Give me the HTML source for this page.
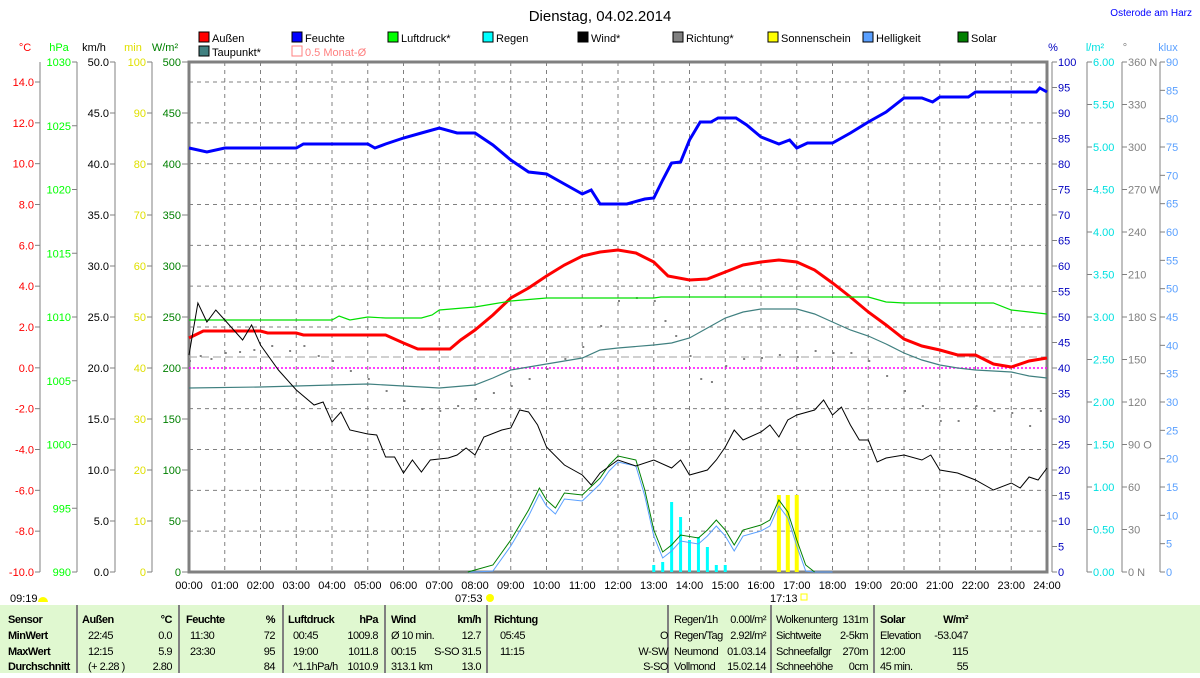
<!DOCTYPE html><html><head><meta charset="utf-8"><style>
body{margin:0;width:1200px;height:673px;background:#fff;overflow:hidden;font-family:"Liberation Sans",sans-serif;}
svg text{font-family:"Liberation Sans",sans-serif;font-size:11px}
svg text.t{font-size:11px;letter-spacing:-0.5px}
</style></head><body>
<svg id="s" width="1200" height="673" xmlns="http://www.w3.org/2000/svg"></svg>
<script>
const s=document.getElementById('s');let h='';
const X=t=>189+t*35.75;
const T=(x,y,t,c,a,extra)=>h+=`<text x="${x}" y="${y}" fill="${c||'#000'}" text-anchor="${a||'start'}" ${extra||''}>${t}</text>`;
const L=(x1,y1,x2,y2,c,w,d)=>h+=`<line x1="${x1}" y1="${y1}" x2="${x2}" y2="${y2}" stroke="${c}" stroke-width="${w||1}" ${d?`stroke-dasharray="${d}"`:''}/>`;
T(600,21,'Dienstag, 04.02.2014','#000','middle','style="font-size:15px"');
T(1192,16,'Osterode am Harz','#0000ff','end','style="font-size:10px"');
const lg=[['Außen','#f00',199,42],['Feuchte','#00f',292,42],['Luftdruck*','#0f0',388,42],['Regen','#0ff',483,42],['Wind*','#000',578,42],['Richtung*','#808080',673,42],['Sonnenschein','#ff0',768,42],['Helligkeit','#5aa0ff',863,42],['Solar','#008000',958,42],['Taupunkt*','#408080',199,56]];
lg.forEach(l=>{h+=`<rect x="${l[2]}" y="${l[3]-10}" width="10" height="10" fill="${l[1]}" stroke="#000"/>`;T(l[2]+13,l[3],l[0]);});
h+=`<rect x="292" y="46" width="10" height="10" fill="none" stroke="#ff8080"/>`;T(305,56,'0.5 Monat-Ø','#ff8080');
for(let i=1;i<24;i++)L(X(i),62,X(i),572,'#808080',1,'4,4');
for(let v=12;v>=-8;v-=2){let y=572-(v+10)*20.4167;if(v!=0)L(189,y,1047,y,'#808080',1,'4,4');}
L(189,82,1047,82,'#808080',1,'4,4');
h+=`<rect x="189" y="62" width="858" height="510" fill="none" stroke="#808080" stroke-width="3"/>`;
const ax=(x,col,vals,y0,step,unit,ux)=>{L(x,62,x,572,'#808080');T(ux,51,unit,col,'middle');vals.forEach((v,i)=>{let y=y0+i*step;L(x-5,y,x,y,'#808080');T(x-6,y+4,v,col,'end');});};
let c=[];for(let v=14;v>=-10;v-=2)c.push(v.toFixed(1));ax(40,'#f00',c,82,40.833,'°C',25);
c=[];for(let v=1030;v>=990;v-=5)c.push(v);ax(77,'#0f0',c,62,63.75,'hPa',59);
c=[];for(let v=50;v>=0;v-=5)c.push(v.toFixed(1));ax(115,'#000',c,62,51,'km/h',94);
c=[];for(let v=100;v>=0;v-=10)c.push(v);ax(152,'#e0e000',c,62,51,'min',133);
c=[];for(let v=500;v>=0;v-=50)c.push(v);
c.forEach((v,i)=>{let y=62+i*51;L(182,y,189,y,'#808080');T(181,y+4,v,'#008000','end');});T(165,51,'W/m²','#008000','middle');
const rax=(x,col,vals,step,unit,ux)=>{L(x,62,x,572,'#808080');T(ux,51,unit,col,'middle');vals.forEach((v,i)=>{let y=62+i*step;L(x,y,x+5,y,'#808080');T(x+6,y+4,v,col);});};
c=[];for(let v=100;v>=0;v-=5)c.push(v);rax(1052,'#0000c0',c,25.5,'%',1053);
c=[];for(let v=6;v>=0;v-=0.5)c.push(v.toFixed(2));rax(1087,'#00e0e0',c,42.5,'l/m²',1095);
c=['360 N','330','300','270 W','240','210','180 S','150','120','90 O','60','30','0 N'];rax(1122,'#808080',c,42.5,'°',1125);
c=[];for(let v=90;v>=0;v-=5)c.push(v);rax(1160,'#5aa0ff',c,28.333,'klux',1168);
for(let i=0;i<=24;i++)T(X(i),589,(i<10?'0':'')+i+':00','#000','middle');
T(10,602,'09:19');h+=`<path d="M38 602 a5 5 0 0 1 10 0z" fill="#ff0"/>`;
T(455,602,'07:53');h+=`<circle cx="490" cy="598" r="4" fill="#ff0"/>`;
T(770,602,'17:13');h+=`<rect x="801" y="594" width="6" height="6" fill="none" stroke="#ff0"/>`;
L(189,357,1047,357,'#a0a0a0',1,'8,4');L(189,368,1047,368,'#ff00ff',1.5,'2,2');
const P=(pts,col,w)=>{let d=pts.map(p=>X(p[0]).toFixed(1)+','+p[1]).join(' ');h+=`<polyline points="${d}" fill="none" stroke="${col}" stroke-width="${w}"/>`;};
[[13,565],[13.25,562],[13.5,502],[13.75,517],[14,540],[14.25,537],[14.5,547],[14.75,565],[15,565]].forEach(b=>h+=`<rect x="${X(b[0])-1.5}" y="${b[1]}" width="3" height="${572-b[1]}" fill="#0ff"/>`);
[16.5,16.75,17].forEach(t=>h+=`<rect x="${X(t)-2}" y="495" width="4" height="77" fill="#ff0"/>`);
const dots=[[0,360],[0.3,355],[0.6,358],[1,352],[1.4,351],[1.8,349],[2.3,345],[2.8,350],[3.2,345],[3.6,355],[4,360],[4.5,370],[5,378],[5.5,390],[6,400],[6.5,408],[7,410],[7.5,405],[8,398],[8.5,392],[9,385],[9.5,378],[10,368],[10.5,358],[11,346],[11.5,325],[12,300],[12.5,297],[13,300],[13.3,320],[13.6,335],[14,355],[14.3,378],[14.6,381],[15,365],[15.5,358],[16,357],[16.5,354],[17,356],[17.5,350],[18,352],[18.5,352],[19,360],[19.5,375],[20,390],[20.5,405],[21,420],[21.5,420],[22,405],[22.5,410],[23,412],[23.5,425],[23.8,410]];
dots.forEach(d=>h+=`<rect x="${X(d[0])}" y="${d[1]}" width="2" height="2" fill="#808080"/>`);
const sol=[[7.8,572],[8,570],[8.5,565],[9,540],[9.5,510],[9.8,488],[10,500],[10.25,508],[10.5,493],[11,495],[11.5,478],[11.75,465],[12,456],[12.5,460],[12.75,490],[13,530],[13.25,552],[13.5,545],[13.75,535],[14.25,538],[14.5,530],[14.75,520],[15,530],[15.25,545],[15.5,530],[16,525],[16.25,520],[16.5,500],[16.75,512],[17,540],[17.25,565],[17.5,572]];
P(sol.map(p=>[p[0],Math.min(572,p[1]+6)]).concat([[18,572]]),'#5aa0ff',1);
P(sol,'#008000',1);
P([[0,338],[0.4,331],[2,331],[2.2,333],[3,333],[3.2,335],[5.5,335],[6,343],[6.4,349],[7.3,349],[7.6,340],[8,330],[8.5,315],[9,298],[9.5,288],[10,276],[10.5,265],[11,256],[11.5,252],[12,250],[12.5,253],[13,262],[13.4,276],[14,280],[14.5,279],[15,272],[15.5,265],[16,262],[16.5,260],[17,262],[17.5,270],[18,283],[18.5,297],[19,312],[19.5,325],[20,339],[20.5,346],[21,350],[21.5,355],[22,355],[22.5,364],[23,367],[23.5,361],[24,358]],'#f00',3);
P([[0,148],[0.5,152],[1,148],[3,148],[3.2,144],[5,144],[5.2,148],[5.5,144],[6,138],[6.5,133],[7,128],[7.5,133],[8,133],[8.5,145],[9,160],[9.5,172],[10,174],[10.5,184],[11,194],[11.25,190],[11.5,204],[12.25,204],[12.75,199],[13,198],[13.25,180],[13.5,163],[13.75,162],[14,140],[14.3,122],[14.6,122],[14.8,118],[15.3,118],[15.6,125],[16,137],[16.5,144],[16.8,140],[17,148],[17.3,143],[18,143],[18.5,133],[19,122],[19.5,112],[20,98],[20.5,98],[20.8,102],[21,97],[21.8,97],[22,92],[23.7,92],[23.8,88],[24,92]],'#00f',3);
P([[0,320],[4,320],[4.2,316],[4.5,320],[5,317],[5.5,318],[6.5,318],[6.8,315],[7,310],[8,307],[8.5,304],[9,301],[10,298],[13,298],[13.2,297],[19,297],[19.5,302],[20,303],[22.5,303],[23,310],[24,314]],'#00e000',1.2);
P([[0,388],[2,387],[3,386],[4,385],[5,384],[6,386],[7,388],[8,385],[8.5,378],[9,370],[10,364],[11,358],[11.5,350],[12,348],[13,345],[13.5,343],[14,338],[14.5,328],[15,318],[15.5,312],[16,309],[17,309],[17.5,314],[18,322],[18.5,330],[19,336],[19.5,344],[20,353],[20.5,360],[21,365],[21.5,368],[22,370],[23,372],[23.5,376],[24,378]],'#408080',1.2);
P([[0,355],[0.25,303],[0.5,322],[0.75,310],[1,320],[1.5,340],[1.75,325],[2,345],[2.5,370],[3,390],[3.5,405],[3.75,402],[4,422],[4.25,412],[4.5,430],[5,434],[5.25,435],[5.5,457],[5.75,457],[6,473],[6.25,460],[6.5,472],[6.75,460],[7.25,458],[7.5,455],[7.75,448],[8,455],[8.25,437],[8.75,430],[9,428],[9.25,410],[9.5,412],[9.75,425],[10,447],[10.5,465],[11,475],[11.25,485],[11.5,473],[12,460],[12.5,466],[13,460],[13.5,468],[13.75,460],[14,475],[14.5,470],[14.75,460],[15,447],[15.25,430],[15.5,440],[16,432],[16.25,425],[16.5,437],[16.75,420],[17,415],[17.5,410],[17.75,400],[18,415],[18.25,407],[18.5,425],[18.75,440],[19,440],[19.25,462],[19.5,458],[20,455],[20.5,460],[20.75,455],[21,470],[21.5,473],[22,480],[22.5,490],[23,483],[23.25,488],[23.5,477],[23.75,480],[24,468]],'#000',1);
h+=`<rect x="0" y="605" width="1200" height="68" fill="#e0f8d0"/>`;
[77,179,283,385,487,668,771,874].forEach(x=>L(x,605,x,673,'#808080',2));
const R=[623,639,655,670];const B='font-weight="bold" class="t"',C='class="t"';
const row=(x,arr,a)=>arr.forEach((t,i)=>T(x,R[i],t,'#000',a,C));
T(8,R[0],'Sensor','#000','start',B);T(8,R[1],'MinWert','#000','start',B);T(8,R[2],'MaxWert','#000','start',B);T(8,R[3],'Durchschnitt','#000','start',B);
T(82,R[0],'Außen','#000','start',B);T(172,R[0],'°C','#000','end',B);row(88,['','22:45','12:15','(+ 2.28 )']);row(172,['','0.0','5.9','2.80'],'end');
T(186,R[0],'Feuchte','#000','start',B);T(275,R[0],'%','#000','end',B);row(190,['','11:30','23:30','']);row(275,['','72','95','84'],'end');
T(288,R[0],'Luftdruck','#000','start',B);T(378,R[0],'hPa','#000','end',B);row(293,['','00:45','19:00','^1.1hPa/h']);row(378,['','1009.8','1011.8','1010.9'],'end');
T(391,R[0],'Wind','#000','start',B);T(481,R[0],'km/h','#000','end',B);row(391,['','Ø 10 min.','00:15','313.1 km']);row(481,['','12.7','S-SO 31.5','13.0'],'end');
T(494,R[0],'Richtung','#000','start',B);row(500,['','05:45','11:15','']);row(668,['','O','W-SW','S-SO'],'end');
row(674,['Regen/1h','Regen/Tag','Neumond','Vollmond']);row(766,['0.00l/m²','2.92l/m²','01.03.14','15.02.14'],'end');
row(776,['Wolkenunterg','Sichtweite','Schneefallgr','Schneehöhe']);row(868,['131m','2-5km','270m','0cm'],'end');
T(880,R[0],'Solar','#000','start',B);T(968,R[0],'W/m²','#000','end',B);row(880,['','Elevation','12:00','45 min.']);row(968,['','-53.047','115','55'],'end');
s.innerHTML=h;
</script></body></html>
